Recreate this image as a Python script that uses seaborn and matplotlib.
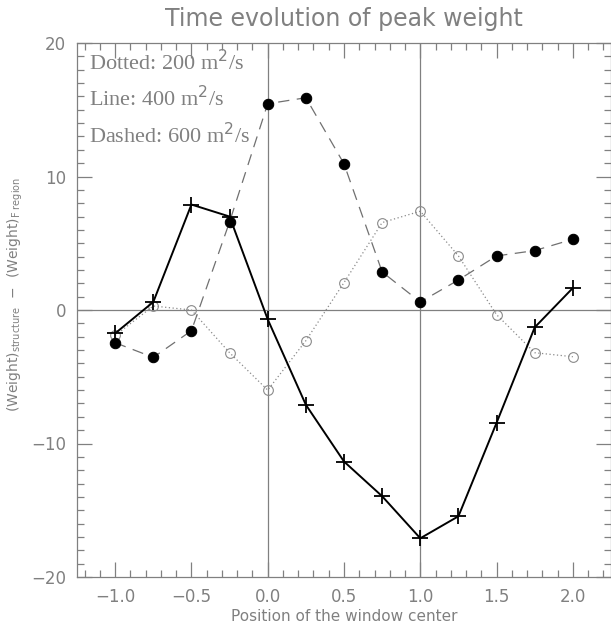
import numpy as np
import pandas as pd
import matplotlib
matplotlib.use('Agg')
import matplotlib.pyplot as plt
import seaborn as sns
from matplotlib.ticker import MultipleLocator

# posiciones de la ventana
pos = [-1.0, -0.75, -0.5, -0.25, 0.0, 0.25, 0.5, 0.75, 1.0, 1.25, 1.5, 1.75, 2.0]

# valores
dotted_200 = [-1.9, 0.3, 0.0, -3.2, -6.0, -2.3, 2.05, 6.55, 7.4, 4.05, -0.35, -3.2, -3.5]
line_400 = [-1.75, 0.6, 7.9, 7.0, -0.7, -7.1, -11.35, -13.95, -17.1, -15.45, -8.45, -1.3, 1.65]
dashed_600 = [-2.45, -3.55, -1.55, 6.6, 15.45, 15.9, 10.95, 2.85, 0.6, 2.25, 4.05, 4.45, 5.3]

legend_lines = ['Dotted: 200 m$^2$/s', 'Line: 400 m$^2$/s', 'Dashed: 600 m$^2$/s']

df = pd.DataFrame({'pos': pos, 'd200': dotted_200, 'l400': line_400, 'd600': dashed_600})

sns.set_style('ticks')
plt.rcParams['font.family'] = ['DejaVu Sans']

gris = '#808080'
fig = plt.figure(figsize=(6.11, 6.25), dpi=100)
ax = fig.add_axes([77/611, 1 - 577/625, 534/611, 534/625])

# lineas de referencia
ax.axhline(0, color=gris, lw=0.9, zorder=1)
ax.axvline(0, color=gris, lw=0.9, zorder=1)
ax.axvline(1, color=gris, lw=0.9, zorder=1)

# 200 m2/s: punteado con circulos abiertos
sns.lineplot(data=df, x='pos', y='d200', ax=ax, color='#8a8a8a', lw=0.9,
             linestyle=(0, (1, 2)), marker='o', markersize=7,
             markerfacecolor='none', markeredgecolor='#8a8a8a', markeredgewidth=0.8, zorder=2)
# 600 m2/s: discontinuo con circulos llenos
sns.lineplot(data=df, x='pos', y='d600', ax=ax, color='#707070', lw=0.9,
             linestyle=(0, (9, 6)), marker='o', markersize=7.5,
             markerfacecolor='black', markeredgecolor='black', zorder=3)
# 400 m2/s: linea continua con cruces
sns.lineplot(data=df, x='pos', y='l400', ax=ax, color='black', lw=1.4,
             marker='+', markersize=12, markeredgewidth=1.3,
             markeredgecolor='black', markerfacecolor='black', zorder=4)

ax.set_xlim(-1.25, 2.25)
ax.set_ylim(-20, 20)
ax.xaxis.set_major_locator(MultipleLocator(0.5))
ax.xaxis.set_minor_locator(MultipleLocator(0.1))
ax.yaxis.set_major_locator(MultipleLocator(10))
ax.yaxis.set_minor_locator(MultipleLocator(1))
ax.xaxis.set_major_formatter(matplotlib.ticker.FuncFormatter(lambda v, p: f"{v:.1f}".replace('-', '\u2212')))
ax.yaxis.set_major_formatter(matplotlib.ticker.FuncFormatter(lambda v, p: f"{v:.0f}".replace('-', '\u2212')))

ax.tick_params(which='both', direction='in', top=True, right=True, color=gris,
               labelcolor=gris, labelsize=12, width=0.9)
ax.tick_params(which='major', length=11, pad=8)
ax.tick_params(which='minor', length=5)
for s in ax.spines.values():
    s.set_color(gris)
    s.set_linewidth(0.9)

ax.set_title('Time evolution of peak weight', color=gris, fontsize=17, pad=12)
ax.set_xlabel('Position of the window center', color=gris, fontsize=11, labelpad=2)
ax.set_ylabel('(Weight)$_{\\mathrm{structure}}$  $-$  (Weight)$_{\\mathrm{F\\ region}}$',
              color=gris, fontsize=10)
ax.yaxis.set_label_coords(-0.097, 0.53)

for i, txt in enumerate(legend_lines):
    ax.text(0.022, 0.964 - i * 0.069, txt, transform=ax.transAxes, color=gris,
            fontsize=16, family=['Liberation Serif', 'DejaVu Serif'], va='center', ha='left')

fig.savefig('out.png', dpi=100)
